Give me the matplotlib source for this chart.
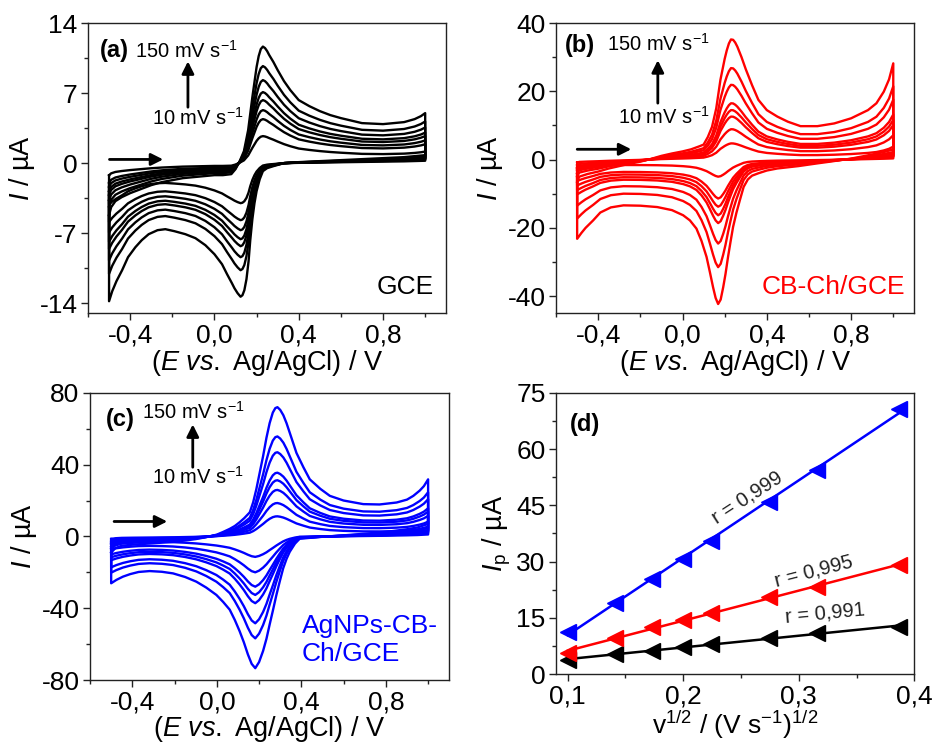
import numpy as np
import matplotlib
matplotlib.use("Agg")
import matplotlib.pyplot as plt
from matplotlib.ticker import MultipleLocator, FuncFormatter

plt.rcParams['font.family'] = ['Liberation Sans', 'DejaVu Sans']
plt.rcParams['mathtext.fontset'] = 'custom'
plt.rcParams['mathtext.rm'] = 'Liberation Sans'
plt.rcParams['mathtext.it'] = 'Liberation Sans:italic'
plt.rcParams['mathtext.bf'] = 'Liberation Sans:bold'
plt.rcParams['axes.unicode_minus'] = False

# ---------------------------------------------------------------- data
scan_rates = [10, 20, 30, 40, 50, 75, 100, 150]          # mV s-1
sqrt_v = [0.100, 0.141, 0.173, 0.200, 0.224, 0.274, 0.316, 0.387]

# anodic peak currents (baseline corrected), µA
ip_gce = [3.7, 5.4, 6.05, 7.3, 8.0, 9.6, 10.9, 12.6]
ip_cbch = [5.5, 9.6, 12.6, 14.4, 16.2, 20.6, 23.2, 29.0]
ip_agnps = [11.2, 19.0, 25.3, 30.6, 35.6, 45.9, 54.3, 70.7]

# ---- GCE voltammograms: 150 mV s-1 scan + peak heights of every scan
gce_e_fwd = [-0.5, -0.49, -0.47, -0.44, -0.4, -0.35, -0.3, -0.25, -0.2, -0.15,
             -0.1, -0.05, 0.0, 0.04, 0.08, 0.1, 0.12, 0.14, 0.16, 0.18, 0.2,
             0.21, 0.22, 0.23, 0.24, 0.25, 0.26, 0.28, 0.3, 0.33, 0.36, 0.4,
             0.45, 0.5, 0.55, 0.6, 0.7, 0.8, 0.9, 0.95, 0.98, 1.0]
gce_i_fwd = [-5.2, -4.4, -3.8, -3.4, -3.0, -2.6, -2.2, -1.9, -1.7, -1.5,
             -1.4, -1.3, -1.2, -1.2, -1.1, -0.6, 0.2, 1.2, 3.3, 6.6, 9.6,
             10.7, 11.4, 11.65, 11.5, 11.2, 10.8, 10.1, 9.3, 8.2, 7.3, 6.3,
             5.7, 5.2, 4.8, 4.5, 4.0, 3.9, 4.1, 4.4, 4.7, 5.0]
gce_e_rev = [1.0, 0.95, 0.9, 0.8, 0.7, 0.6, 0.5, 0.4, 0.33, 0.28, 0.25, 0.23,
             0.215, 0.2, 0.19, 0.18, 0.17, 0.162, 0.152, 0.142, 0.133, 0.124,
             0.11, 0.095, 0.083, 0.06, 0.036, 0.0, -0.043, -0.09, -0.138,
             -0.19, -0.233, -0.27, -0.312, -0.345, -0.375, -0.41, -0.438,
             -0.465, -0.485, -0.5]
gce_i_rev = [0.8, 0.7, 0.6, 0.5, 0.4, 0.3, 0.2, 0.1, 0.0, -0.3, -0.5, -0.8,
             -1.6, -2.8, -4.0, -5.6, -7.7, -9.8, -11.6, -12.7, -13.2, -13.35,
             -13.0, -12.5, -12.0, -11.1, -10.1, -9.1, -8.2, -7.5, -7.1,
             -6.8, -6.6, -6.7, -7.1, -7.7, -8.4, -9.4, -10.7, -11.8, -12.8, -13.8]
gce_pa = [2.7, 4.4, 5.3, 6.3, 7.1, 8.3, 9.7, 11.65]
gce_pc = [-4.0, -5.7, -6.7, -7.6, -8.3, -9.4, -10.7, -13.35]

# ---- CB-Ch/GCE voltammograms
cb_e_fwd = [-0.5, -0.49, -0.45, -0.4, -0.35, -0.3, -0.25, -0.2, -0.15, -0.1,
            -0.05, 0.0, 0.04, 0.08, 0.1, 0.12, 0.14, 0.16, 0.18, 0.2, 0.21,
            0.22, 0.23, 0.24, 0.25, 0.26, 0.28, 0.3, 0.33, 0.36, 0.4, 0.45,
            0.5, 0.56, 0.64, 0.72, 0.8, 0.88, 0.92, 0.955, 0.98, 1.0]
cb_i_fwd = [-6.5, -5.0, -4.2, -3.5, -2.6, -1.9, -1.2, -0.6, 0.2, 1.1,
            1.8, 2.4, 3.0, 3.9, 4.4, 6.6, 9.6, 15.0, 23.4, 29.5, 32.0,
            34.0, 35.2, 35.1, 34.3, 33.1, 30.0, 26.5, 21.8, 17.5, 14.5, 12.6,
            11.1, 9.8, 9.8, 10.6, 12.1, 14.5, 16.5, 19.9, 23.5, 28.2]
cb_e_rev = [1.0, 0.955, 0.9, 0.8, 0.7, 0.64, 0.55, 0.45, 0.4, 0.36, 0.33,
            0.31, 0.29, 0.272, 0.256, 0.24, 0.228, 0.216, 0.204, 0.193, 0.181,
            0.169, 0.157, 0.145, 0.13, 0.114, 0.09, 0.066, 0.035, 0.003,
            -0.05, -0.12, -0.2, -0.28, -0.34, -0.39, -0.424, -0.46, -0.48, -0.5]
cb_i_rev = [3.0, 2.2, 1.5, 0.3, -0.6, -1.1, -1.9, -2.6, -3.2, -4.0, -4.7,
            -5.8, -8.0, -11.9, -15.5, -19.7, -24.0, -28.5, -33.5, -37.4, -41.0,
            -42.3, -40.5, -37.4, -33.0, -28.5, -23.8, -20.2, -17.8, -16.3,
            -14.8, -13.9, -13.5, -13.4, -14.0, -15.5, -17.8, -20.0, -21.5, -23.2]
cb_pa = [4.75, 8.9, 12.6, 14.5, 16.5, 21.9, 26.8, 35.2]
cb_pc = [-5.0, -11.4, -13.8, -16.3, -18.6, -24.6, -31.5, -42.3]

# ---- AgNPs-CB-Ch/GCE voltammograms
ag_e_fwd = [-0.5, -0.48, -0.45, -0.4, -0.3, -0.2, -0.1, -0.05, 0.0, 0.03,
            0.061, 0.085, 0.108, 0.13, 0.156, 0.172, 0.187, 0.203, 0.219,
            0.235, 0.25, 0.265, 0.277, 0.287, 0.3, 0.315, 0.33, 0.353, 0.377,
            0.41, 0.44, 0.49, 0.535, 0.6, 0.693, 0.77, 0.851, 0.9, 0.93, 0.96,
            0.98, 1.0]
ag_i_fwd = [-9.0, -6.5, -5.2, -4.6, -3.8, -3.0, -1.5, -0.4, 1.0, 2.5,
            4.2, 5.8, 7.9, 10.2, 13.4, 19.0, 26.3, 35.5, 44.7,
            55.0, 63.1, 69.0, 71.5, 72.0, 70.5, 67.5, 63.1, 55.0, 46.5,
            38.5, 31.8, 26.5, 22.6, 20.0, 18.0, 17.8, 18.9, 20.5, 22.6, 25.5,
            28.0, 31.8]
ag_e_rev = [1.0, 0.95, 0.9, 0.8, 0.7, 0.6, 0.5, 0.45, 0.392, 0.37, 0.345,
            0.33, 0.314, 0.298, 0.282, 0.266, 0.25, 0.235, 0.219, 0.2, 0.182,
            0.165, 0.147, 0.128, 0.108, 0.085, 0.061, 0.03, -0.002, -0.05,
            -0.097, -0.15, -0.207, -0.26, -0.318, -0.37, -0.41, -0.444,
            -0.475, -0.5]
ag_i_rev = [7.0, 5.0, 4.0, 2.5, 1.5, 0.6, -0.2, -0.7, -1.3, -4.0, -8.6,
            -12.5, -17.8, -25.0, -32.6, -41.0, -49.1, -57.0, -63.8, -70.0, -73.4,
            -71.0, -65.7, -59.0, -52.8, -46.5, -40.8, -36.5, -32.6, -28.5,
            -25.2, -22.6, -20.6, -19.7, -19.3, -19.8, -21.0, -22.4,
            -24.2, -26.1]
ag_pa = [11.2, 18.6, 25.9, 31.3, 35.5, 46.9, 55.7, 72.0]
ag_pc = [-11.4, -20.0, -28.0, -32.6, -37.2, -48.4, -56.8, -73.4]

# ---------------------------------------------------------------- figure
fig = plt.figure(figsize=(9.33, 7.44), dpi=100)

TICK_FS = 19
LABEL_FS = 19.5
NOTE_FS = 14.5

E_LABEL = r"($\mathit{E}$ $\mathit{vs.}$ Ag/AgCl) / V"


def comma_fmt(decimals):
    def f(x, pos):
        if abs(x) < 1e-9:
            x = 0.0
        return f"{x:.{decimals}f}".replace('.', ',')
    return FuncFormatter(f)


def style_axes(ax):
    for sp in ax.spines.values():
        sp.set_linewidth(1.0)
        sp.set_color('#222222')
    ax.tick_params(which='both', direction='out', top=False, right=False,
                   labelsize=TICK_FS, width=1.0, color='#222222')
    ax.tick_params(which='major', length=5, pad=2.5)
    ax.tick_params(which='minor', length=3)


def cv_panel(rect, e_fwd, i_fwd, e_rev, i_rev, pa, pc, color,
             ylim, ymaj, ymin, letter, name, name_xy, name_ha, notes):
    ax = fig.add_axes(rect)
    e_loop = np.concatenate([e_fwd, e_rev, [e_fwd[0]]])
    ref_a, ref_c = pa[-1], pc[-1]
    for a, c in zip(pa, pc):
        fwd = np.asarray(i_fwd) * (a / ref_a)
        rev = np.asarray(i_rev) * (c / ref_c)
        i_loop = np.concatenate([fwd, rev, [fwd[0]]])
        ax.plot(e_loop, i_loop, color=color, lw=1.7, solid_joinstyle='round')
    ax.set_xlim(-0.6, 1.1)
    ax.set_ylim(*ylim)
    ax.xaxis.set_major_locator(MultipleLocator(0.4))
    ax.xaxis.set_minor_locator(MultipleLocator(0.2))
    ax.xaxis.set_major_formatter(comma_fmt(1))
    ax.yaxis.set_major_locator(MultipleLocator(ymaj))
    ax.yaxis.set_minor_locator(MultipleLocator(ymin))
    ax.yaxis.set_major_formatter(FuncFormatter(lambda v, p: f"{v:g}"))
    style_axes(ax)
    ax.set_xlabel(E_LABEL, fontsize=LABEL_FS, labelpad=0)
    ax.set_ylabel(r"$\mathit{I}$ / µA", fontsize=LABEL_FS, labelpad=2)

    lx, ly = letter[1]
    ax.text(lx, ly, letter[0], transform=ax.transAxes, fontsize=17,
            fontweight='bold', ha='center', va='center')
    ax.text(name_xy[0], name_xy[1], name, transform=ax.transAxes,
            fontsize=19, color=color, ha=name_ha, va='center',
            linespacing=1.2)

    (t150, t10, va_tail, va_head, ha_tail, ha_head) = notes
    ax.text(t150[0], t150[1], r"150 mV s$^{-1}$", transform=ax.transAxes,
            fontsize=NOTE_FS, ha='center', va='center')
    ax.text(t10[0], t10[1], r"10 mV s$^{-1}$", transform=ax.transAxes,
            fontsize=NOTE_FS, ha='center', va='center')
    arrow = dict(arrowstyle='-|>', color='black', lw=2.0, mutation_scale=18,
                 shrinkA=0, shrinkB=0)
    ax.annotate('', xy=va_head, xytext=va_tail, xycoords='axes fraction',
                textcoords='axes fraction', arrowprops=arrow)
    ax.annotate('', xy=ha_head, xytext=ha_tail, xycoords='axes fraction',
                textcoords='axes fraction', arrowprops=arrow)
    return ax


# (a) bare GCE
cv_panel([0.0943, 0.579, 0.384, 0.390],
         gce_e_fwd, gce_i_fwd, gce_e_rev, gce_i_rev, gce_pa, gce_pc, 'black',
         (-15, 14), 7, 3.5, ('(a)', (0.075, 0.905)),
         'GCE', (0.965, 0.09), 'right',
         ((0.275, 0.905), (0.305, 0.675), (0.279, 0.71), (0.279, 0.868),
          (0.06, 0.53), (0.21, 0.53)))

# (b) CB-Ch/GCE
cv_panel([0.596, 0.579, 0.384, 0.390],
         cb_e_fwd, cb_i_fwd, cb_e_rev, cb_i_rev, cb_pa, cb_pc, '#ff0000',
         (-45, 40), 20, 10, ('(b)', (0.068, 0.924)),
         'CB-Ch/GCE', (0.975, 0.09), 'right',
         ((0.285, 0.93), (0.30, 0.676), (0.284, 0.724), (0.284, 0.872),
          (0.059, 0.565), (0.21, 0.565)))

# (c) AgNPs-CB-Ch/GCE
cv_panel([0.0965, 0.086, 0.385, 0.386],
         ag_e_fwd, ag_i_fwd, ag_e_rev, ag_i_rev, ag_pa, ag_pc, '#0000ff',
         (-80, 80), 40, 20, ('(c)', (0.084, 0.907)),
         'AgNPs-CB-\nCh/GCE', (0.59, 0.14), 'left',
         ((0.288, 0.934), (0.30, 0.707), (0.286, 0.741), (0.286, 0.89),
          (0.067, 0.552), (0.215, 0.552)))

# (d) peak current vs square root of scan rate
axd = fig.add_axes([0.596, 0.094, 0.384, 0.378])
series = [(ip_gce, 'black', 'r = 0,991', (0.323, 16.1), 5.5),
          (ip_cbch, '#ff0000', 'r = 0,995', (0.313, 27.5), 14.5),
          (ip_agnps, '#0000ff', 'r = 0,999', (0.255, 47.2), 33.0)]
xs = np.asarray(sqrt_v)
for ip, col, rtxt, rpos, rot in series:
    slope, icpt = np.polyfit(xs, ip, 1)
    xl = np.array([xs[0], xs[-1]])
    axd.plot(xl, slope * xl + icpt, color=col, lw=1.8, zorder=2)
    axd.plot(xs, ip, linestyle='none', marker='<', markersize=11,
             color=col, zorder=3)
    axd.text(rpos[0], rpos[1], rtxt, fontsize=NOTE_FS, rotation=rot,
             ha='center', va='center', color='#222222')
axd.set_xlim(0.09, 0.4)
axd.set_ylim(0, 75)
axd.xaxis.set_major_locator(MultipleLocator(0.1))
axd.xaxis.set_minor_locator(MultipleLocator(0.05))
axd.xaxis.set_major_formatter(comma_fmt(1))
axd.yaxis.set_major_locator(MultipleLocator(15))
axd.yaxis.set_minor_locator(MultipleLocator(7.5))
axd.yaxis.set_major_formatter(FuncFormatter(lambda v, p: f"{v:g}"))
style_axes(axd)
axd.set_xlabel(r"v$^{1/2}$ / (V s$^{-1}$)$^{1/2}$", fontsize=19,
               labelpad=0)
axd.set_ylabel(r"$\mathit{I}_\mathrm{p}$ / µA", fontsize=LABEL_FS, labelpad=2)
axd.text(0.081, 0.889, '(d)', transform=axd.transAxes, fontsize=17,
         fontweight='bold', ha='center', va='center')

fig.savefig('out.png', dpi=100)
